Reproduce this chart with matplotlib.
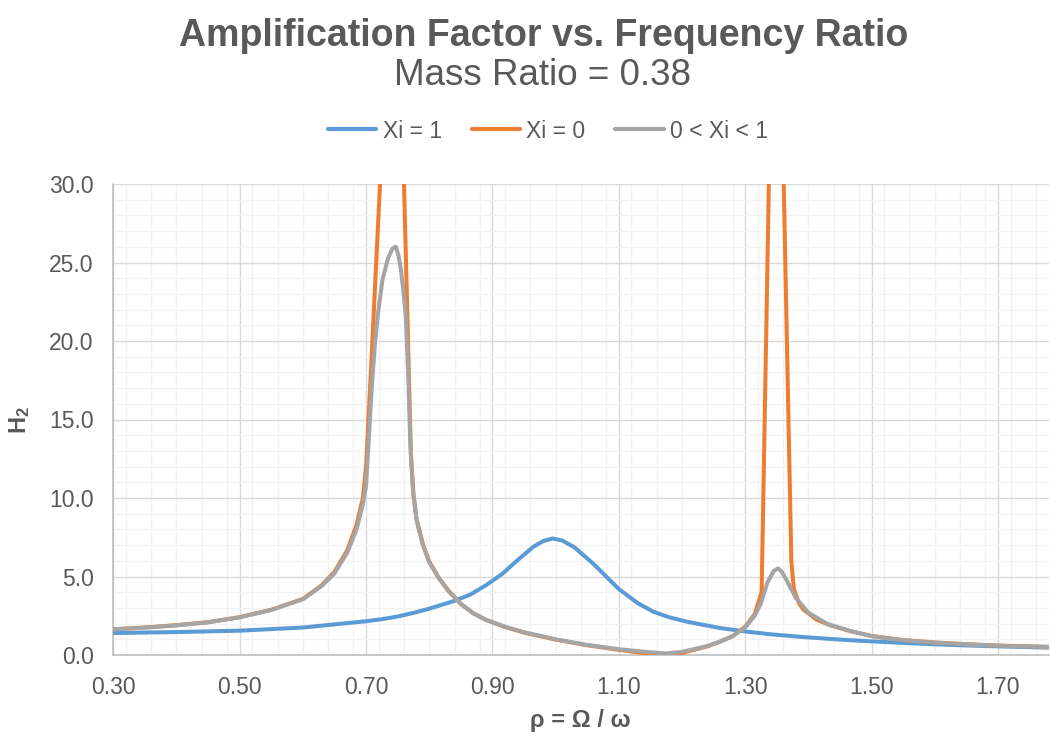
#!/usr/bin/env python3
"""
Amplification factor vs. frequency ratio (mass ratio 0.38), Excel-style chart
"""
import matplotlib
matplotlib.use('Agg')
import matplotlib.pyplot as plt
from matplotlib.ticker import FixedLocator, MultipleLocator, FormatStrFormatter

plt.rcParams['font.family'] = ['Liberation Sans', 'DejaVu Sans']
plt.rcParams['mathtext.fontset'] = 'custom'
plt.rcParams['mathtext.rm'] = 'Liberation Sans'
plt.rcParams['mathtext.bf'] = 'Liberation Sans:bold'

# values
blue_x = [0.30, 0.40, 0.50, 0.60, 0.70, 0.725, 0.75, 0.775, 0.80, 0.84, 0.865, 0.89, 0.915,
          0.94, 0.965, 0.98, 0.995, 1.01, 1.03, 1.06, 1.08, 1.10, 1.13, 1.155, 1.18,
          1.21, 1.26, 1.30, 1.34, 1.39, 1.45, 1.50, 1.55, 1.60, 1.65, 1.70, 1.78]
blue_y = [1.40, 1.46, 1.55, 1.75, 2.15, 2.28, 2.45, 2.68, 2.95, 3.45, 3.85, 4.45, 5.15,
          6.05, 6.90, 7.25, 7.42, 7.30, 6.85, 5.80, 5.00, 4.20, 3.30, 2.75, 2.40,
          2.10, 1.72, 1.50, 1.32, 1.15, 0.98, 0.87, 0.77, 0.68, 0.61, 0.55, 0.47]

orange_x = [0.30, 0.35, 0.40, 0.45, 0.50, 0.55, 0.60, 0.63, 0.65, 0.67, 0.685, 0.695,
            0.70, 0.707, 0.747, 0.768, 0.771, 0.775, 0.78, 0.79, 0.80, 0.815, 0.83,
            0.85, 0.87, 0.89, 0.92, 0.95, 1.00, 1.05, 1.10, 1.14, 1.17, 1.20, 1.24,
            1.26, 1.28, 1.30, 1.315, 1.326, 1.3485, 1.373, 1.377, 1.385, 1.392, 1.413,
            1.434, 1.465, 1.50, 1.55, 1.60, 1.65, 1.70, 1.78]
orange_y = [1.64, 1.75, 1.90, 2.09, 2.41, 2.88, 3.57, 4.45, 5.30, 6.65, 8.30, 10.0,
            12.0, 17.5, 50.6, 17.5, 12.8, 10.2, 8.60, 7.05, 5.95, 4.92, 4.12,
            3.25, 2.65, 2.23, 1.78, 1.43, 0.98, 0.62, 0.33, 0.12, 0.0, 0.13, 0.55,
            0.85, 1.20, 1.80, 2.60, 4.00, 55.0, 6.00, 4.20, 3.30, 2.90, 2.25,
            1.90, 1.53, 1.21, 0.95, 0.80, 0.69, 0.60, 0.52]

gray_x = [0.30, 0.35, 0.40, 0.45, 0.50, 0.55, 0.60, 0.63, 0.65, 0.67, 0.685, 0.695,
          0.70, 0.704, 0.709, 0.714, 0.719, 0.726, 0.735, 0.742, 0.747, 0.751, 0.755,
          0.759, 0.763, 0.767, 0.770, 0.774, 0.78, 0.79, 0.80, 0.815, 0.83, 0.85,
          0.87, 0.89, 0.92, 0.95, 1.00, 1.05, 1.10, 1.15, 1.175, 1.20, 1.24, 1.26,
          1.28, 1.30, 1.315, 1.325, 1.335, 1.345, 1.352, 1.358, 1.365, 1.38, 1.40,
          1.43, 1.465, 1.50, 1.55, 1.60, 1.65, 1.70, 1.78]
gray_y = [1.63, 1.74, 1.89, 2.08, 2.40, 2.87, 3.55, 4.40, 5.20, 6.50, 8.00, 9.60,
          10.8, 13.5, 17.0, 19.8, 21.8, 23.9, 25.3, 25.9, 26.0, 25.5, 24.6,
          23.2, 21.5, 17.5, 13.5, 10.6, 8.60, 7.00, 5.90, 4.90, 4.10, 3.25,
          2.65, 2.23, 1.80, 1.45, 1.00, 0.64, 0.37, 0.17, 0.10, 0.20, 0.57, 0.85,
          1.20, 1.75, 2.50, 3.30, 4.60, 5.35, 5.52, 5.30, 4.80, 3.65, 2.70,
          1.98, 1.55, 1.20, 0.94, 0.79, 0.68, 0.59, 0.51]

series_labels = ['Xi = 1', 'Xi = 0', '0 < Xi < 1']
x_ticks = [0.30, 0.50, 0.70, 0.90, 1.10, 1.30, 1.50, 1.70]
y_ticks = [0.0, 5.0, 10.0, 15.0, 20.0, 25.0, 30.0]

TEXT = '#595959'

fig = plt.figure(figsize=(10.5, 7.36), dpi=100)
ax = fig.add_axes([113.3 / 1050, 81 / 736, (1048.5 - 113.3) / 1050, 471 / 736])

lw = 2.9
ax.plot(blue_x, blue_y, color='#5b9bd5', linewidth=lw, label=series_labels[0],
        solid_joinstyle='round', solid_capstyle='round', zorder=3)
ax.plot(orange_x, orange_y, color='#ed7d31', linewidth=lw, label=series_labels[1],
        solid_joinstyle='round', solid_capstyle='round', zorder=4)
ax.plot(gray_x, gray_y, color='#a5a5a5', linewidth=lw, label=series_labels[2],
        solid_joinstyle='round', solid_capstyle='round', zorder=5)

ax.set_xlim(0.30, 1.78)
ax.set_ylim(0, 30)
ax.xaxis.set_major_locator(FixedLocator(x_ticks))
ax.xaxis.set_minor_locator(MultipleLocator(0.04))
ax.yaxis.set_major_locator(FixedLocator(y_ticks))
ax.yaxis.set_minor_locator(MultipleLocator(1.0))
ax.xaxis.set_major_formatter(FormatStrFormatter('%.2f'))
ax.yaxis.set_major_formatter(FormatStrFormatter('%.1f'))

ax.grid(True, which='major', color='#d9d9d9', linewidth=1.0, zorder=1)
ax.grid(True, which='minor', color='#f2f2f2', linewidth=1.0, zorder=0)
ax.set_axisbelow(True)
ax.tick_params(which='both', length=0, labelsize=16.5, labelcolor=TEXT)
ax.tick_params(axis='x', pad=15)
ax.tick_params(axis='y', pad=14)

for side in ['top', 'right']:
    ax.spines[side].set_visible(False)
for side in ['left', 'bottom']:
    ax.spines[side].set_color('#bfbfbf')
    ax.spines[side].set_linewidth(1.2)

fig.text(0.518, 0.937, 'Amplification Factor vs. Frequency Ratio', ha='center',
         va='baseline', fontsize=27, fontweight='bold', color=TEXT)
fig.text(0.517, 0.8845, 'Mass Ratio = 0.38', ha='center', va='baseline',
         fontsize=26.5, color=TEXT)

fig.text(580 / 1050, 1 - 720 / 736, 'ρ = Ω / ω', ha='center', va='center',
         fontsize=17, fontweight='bold', color=TEXT)
fig.text(20 / 1050, 1 - 420 / 736, r'$\mathbf{H_2}$', ha='center', va='center',
         rotation=90, fontsize=17, color=TEXT)

leg = ax.legend(loc='center', bbox_to_anchor=(548 / 1050, 1 - 131 / 736),
                bbox_transform=fig.transFigure, ncol=3, frameon=False,
                fontsize=16.5, handlelength=2.1, handletextpad=0.3,
                columnspacing=1.3, labelcolor=TEXT)
for line in leg.get_lines():
    line.set_linewidth(3)
    line.set_solid_capstyle('round')

plt.savefig('out.png', dpi=100)
plt.close()
